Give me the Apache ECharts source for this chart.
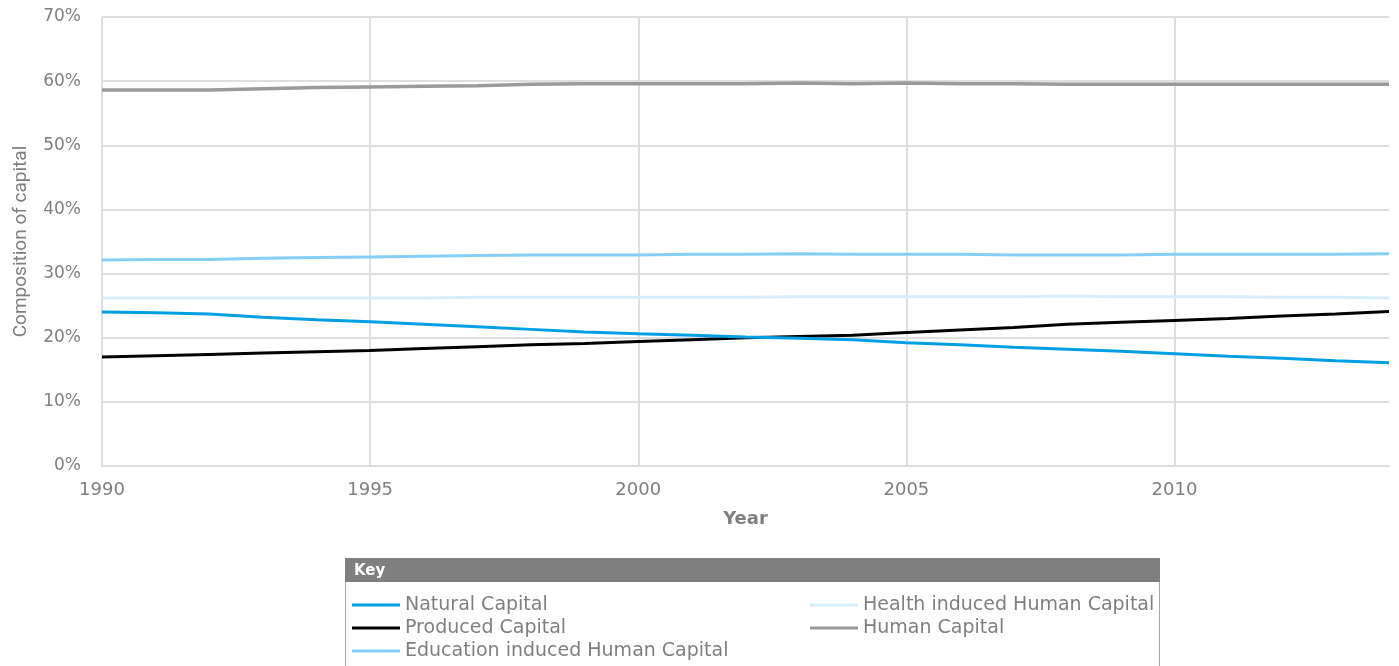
<!DOCTYPE html>
<html>
<head>
<meta charset="utf-8">
<script src="https://cdn.jsdelivr.net/npm/echarts@6/dist/echarts.min.js"></script>
<style>
  html, body { margin: 0; padding: 0; background: #fff; }
  #chart { width: 1399px; height: 666px; }
</style>
</head>
<body>
<div id="chart"></div>
<script>
// years on the x axis
const years = [1990, 1991, 1992, 1993, 1994, 1995, 1996, 1997, 1998, 1999, 2000, 2001, 2002,
  2003, 2004, 2005, 2006, 2007, 2008, 2009, 2010, 2011, 2012, 2013, 2014];

// share of total capital, %
const naturalCapital = [24.0, 23.9, 23.7, 23.2, 22.8, 22.5, 22.1, 21.7, 21.3, 20.9, 20.6, 20.4, 20.1,
  19.9, 19.7, 19.2, 18.9, 18.5, 18.2, 17.9, 17.5, 17.1, 16.8, 16.4, 16.1];
const producedCapital = [17.0, 17.2, 17.4, 17.6, 17.8, 18.0, 18.3, 18.6, 18.9, 19.1, 19.4, 19.7, 20.0,
  20.2, 20.4, 20.8, 21.2, 21.6, 22.1, 22.4, 22.7, 23.0, 23.4, 23.7, 24.1];
const educationCapital = [32.1, 32.2, 32.2, 32.4, 32.5, 32.6, 32.7, 32.8, 32.9, 32.9, 32.9, 33.0, 33.0,
  33.1, 33.0, 33.0, 33.0, 32.9, 32.9, 32.9, 33.0, 33.0, 33.0, 33.0, 33.1];
const healthCapital = [26.2, 26.2, 26.2, 26.2, 26.2, 26.2, 26.2, 26.3, 26.3, 26.3, 26.3, 26.3, 26.3,
  26.4, 26.4, 26.4, 26.4, 26.4, 26.5, 26.4, 26.4, 26.4, 26.3, 26.3, 26.2];
const humanCapital = [58.6, 58.6, 58.6, 58.8, 59.0, 59.1, 59.2, 59.3, 59.5, 59.6, 59.6, 59.6, 59.6,
  59.7, 59.6, 59.7, 59.6, 59.6, 59.5, 59.5, 59.5, 59.5, 59.5, 59.5, 59.5];

const yTicks = [0, 10, 20, 30, 40, 50, 60, 70];

const textGrey = "#7f7f7f";
const gridGrey = "#dedede";
const wideFont = "DejaVu Sans";

function pairs(values) {
  return years.map((y, i) => [y, values[i]]);
}

function makeSeries(name, values, color, width) {
  return {
    name: name,
    type: "line",
    data: pairs(values),
    symbol: "none",
    smooth: false,
    lineStyle: { color: color, width: width || 3 },
    itemStyle: { color: color },
    animation: false
  };
}

function keyLegend(left, names) {
  return {
    left: left,
    top: 595,
    height: 80,
    padding: 0,
    orient: "vertical",
    icon: "rect",
    itemWidth: 48,
    itemHeight: 3,
    itemGap: 3,
    data: names,
    textStyle: { color: textGrey, fontSize: 19, fontFamily: wideFont, lineHeight: 20 },
    selectedMode: false
  };
}

const chart = echarts.init(document.getElementById("chart"));
chart.setOption({
  textStyle: { fontFamily: wideFont },
  grid: { left: 102, right: 10, top: 17, bottom: 200, outerBoundsMode: "none" },
  xAxis: {
    type: "value",
    min: 1990,
    max: 2014,
    interval: 5,
    name: "Year",
    nameLocation: "middle",
    nameGap: 44,
    nameTextStyle: { color: textGrey, fontSize: 18, fontWeight: "bold" },
    axisLine: { show: true, lineStyle: { color: gridGrey, width: 2 } },
    axisTick: { show: false },
    axisLabel: {
      color: textGrey,
      fontSize: 18,
      margin: 15,
      showMaxLabel: false,
      formatter: v => String(v)
    },
    splitLine: { show: true, showMaxLine: false, lineStyle: { color: gridGrey, width: 2 } }
  },
  yAxis: {
    type: "value",
    min: yTicks[0],
    max: yTicks[yTicks.length - 1],
    interval: 10,
    name: "Composition of capital",
    nameLocation: "middle",
    nameGap: 71,
    nameTextStyle: { color: textGrey, fontSize: 19, fontFamily: "Roboto" },
    axisLine: { show: false },
    axisTick: { show: false },
    axisLabel: { color: textGrey, fontSize: 17, margin: 21, formatter: "{value}%" },
    splitLine: { show: true, lineStyle: { color: gridGrey, width: 2 } }
  },
  legend: [
    keyLegend(352, ["Natural Capital", "Produced Capital", "Education induced Human Capital"]),
    keyLegend(810, ["Health induced Human Capital", "Human Capital"])
  ],
  graphic: [
    {
      type: "rect",
      shape: { x: 345.5, y: 558.5, width: 814, height: 120 },
      style: { fill: "none", stroke: "#a6a6a6", lineWidth: 1 },
      silent: true
    },
    {
      type: "rect",
      shape: { x: 345, y: 558, width: 815, height: 24 },
      style: { fill: "#7f7f7f" },
      silent: true
    },
    {
      type: "text",
      x: 354,
      y: 571,
      style: {
        text: "Key",
        fill: "#fff",
        font: "bold 15px 'DejaVu Sans'",
        verticalAlign: "middle"
      },
      silent: true
    }
  ],
  series: [
    makeSeries("Health induced Human Capital", healthCapital, "#d7edfb"),
    makeSeries("Education induced Human Capital", educationCapital, "#85cff4"),
    makeSeries("Human Capital", humanCapital, "#9a9a9a", 3.5),
    makeSeries("Produced Capital", producedCapital, "#000000"),
    makeSeries("Natural Capital", naturalCapital, "#00a0e3")
  ]
});
</script>
</body>
</html>
